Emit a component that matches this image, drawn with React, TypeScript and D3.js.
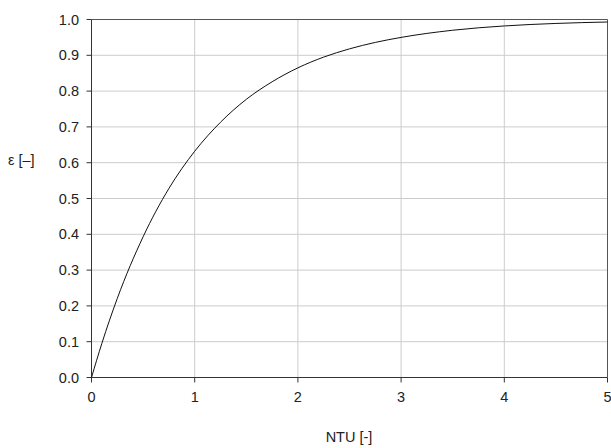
import React from "react";
import * as d3 from "d3";

const ntu = [0, 0.1, 0.25, 0.5, 0.75, 1, 1.25, 1.5, 1.75, 2, 2.25, 2.5, 2.75, 3, 3.5, 4, 4.5, 5];
const eps = [0, 0.095, 0.221, 0.393, 0.528, 0.632, 0.713, 0.777, 0.826, 0.865, 0.895, 0.918, 0.936, 0.950, 0.970, 0.982, 0.989, 0.993];
const xTicks = [0, 1, 2, 3, 4, 5];
const yTicks = [0, 0.1, 0.2, 0.3, 0.4, 0.5, 0.6, 0.7, 0.8, 0.9, 1.0];

export default function App() {
  const W = 611, H = 448;
  const x = d3.scaleLinear().domain([0, 5]).range([91.5, 607.5]);
  const y = d3.scaleLinear().domain([0, 1]).range([377.5, 19.5]);
  const line = d3.line<number>().x((_, i) => x(ntu[i])).y((d) => y(d)).curve(d3.curveMonotoneX);
  const font = "Arial, 'Liberation Sans', Helvetica, sans-serif";
  const fs = 14.5;
  return (
    <svg width={W} height={H} style={{ position: "absolute", left: 0, top: 0, background: "#fff" }} fontFamily={font}>
      {xTicks.slice(1).map((t) => (
        <line key={"gx" + t} x1={x(t)} x2={x(t)} y1={y(0)} y2={y(1)} stroke="#cccccc" strokeWidth={1} />
      ))}
      {yTicks.slice(1).map((t) => (
        <line key={"gy" + t} x1={x(0)} x2={x(5)} y1={y(t)} y2={y(t)} stroke="#cccccc" strokeWidth={1} />
      ))}
      <line x1={x(0)} x2={x(5)} y1={y(1)} y2={y(1)} stroke="#555" strokeWidth={1} />
      <line x1={x(5)} x2={x(5)} y1={y(0)} y2={y(1)} stroke="#555" strokeWidth={1} />
      <line x1={x(0)} x2={x(0)} y1={y(0)} y2={y(1)} stroke="#333" strokeWidth={1} />
      <line x1={x(0)} x2={x(5)} y1={y(0)} y2={y(0)} stroke="#333" strokeWidth={1} />
      {yTicks.map((t) => (
        <g key={"yt" + t}>
          <line x1={x(0) - 5} x2={x(0)} y1={y(t)} y2={y(t)} stroke="#333" />
          <text x={79} y={y(t)} dy="0.35em" textAnchor="end" fontSize={fs} fill="#222">{t.toFixed(1)}</text>
        </g>
      ))}
      {xTicks.map((t) => (
        <g key={"xt" + t}>
          <line x1={x(t)} x2={x(t)} y1={y(0)} y2={y(0) + 5} stroke="#333" />
          <text x={x(t)} y={397} dy="0.35em" textAnchor="middle" fontSize={fs} fill="#222">{t}</text>
        </g>
      ))}
      <path d={line(eps) || ""} fill="none" stroke="#111" strokeWidth={1} />
      <text x={8} y={160} dy="0.35em" fontSize={fs} fill="#222">ε [–]</text>
      <text x={349} y={437} dy="0.35em" textAnchor="middle" fontSize={fs} fill="#222">NTU [-]</text>
    </svg>
  );
}
